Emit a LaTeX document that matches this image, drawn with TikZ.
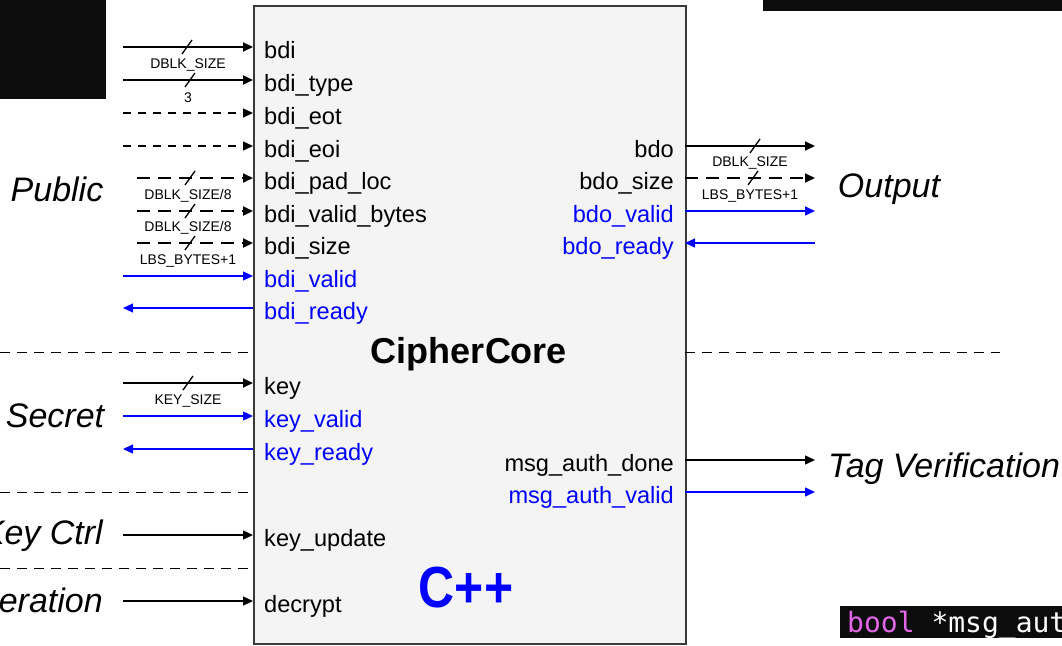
\documentclass[tikz,border=0pt]{standalone}
\usepackage{fontspec}
\setmainfont{Liberation Sans}
\newfontfamily\codefont{DejaVu Sans Mono}
\usetikzlibrary{arrows.meta}
\definecolor{coreFill}{HTML}{F4F4F4}
\definecolor{coreEdge}{HTML}{3A3A3A}
\definecolor{termBg}{HTML}{0C0C0C}
\definecolor{kw}{HTML}{E466E8}
\definecolor{sigblue}{RGB}{0,0,255}
\begin{document}
\begin{tikzpicture}[x=1pt,y=-1pt,
  port/.style={font=\fontsize{23.6}{27}\selectfont, inner sep=0pt},
  inport/.style={port, anchor=base west},
  outport/.style={port, anchor=base east},
  hs/.style={text=sigblue},
  group/.style={font=\fontsize{34}{38}\selectfont\itshape, inner sep=0pt},
  width/.style={font=\fontsize{14}{16}\selectfont, inner sep=0pt},
  tip/.style={-{Triangle[length=10pt,width=9pt]}},
  bus/.style={tip, line width=1.8pt, draw=black},
  dbus/.style={bus, dash pattern=on 13pt off 8pt},
  wire/.style={tip, line width=1.4pt, draw=black},
  dwire/.style={tip, line width=1.3pt, draw=black, dash pattern=on 8pt off 7pt},
  hwire/.style={tip, line width=1.3pt, draw=sigblue},
  sep/.style={line width=1pt, dash pattern=on 10pt off 7pt},
  slash/.style={line width=1.3pt}]
\useasboundingbox (0,0) rectangle (1062,645);
\clip (0,0) rectangle (1062,645);

% terminal windows behind the diagram
\fill[termBg] (0,0) rectangle (106,99);
\fill[termBg] (763,0) rectangle (1062,11);
\fill[termBg] (840,606) rectangle (1062,638);
\node[anchor=base west, inner sep=0pt, font=\fontsize{28}{30}\selectfont\codefont] (code) at (847,632)
  {\textcolor{kw}{bool} \textcolor{white}{*msg\_aut}};

% the core block
\node[draw=coreEdge, fill=coreFill, line width=1.6pt, minimum width=432pt, minimum height=638pt,
  anchor=north west, inner sep=0pt] (core) at (253,5) {};
\node[font=\fontsize{36}{40}\selectfont\bfseries, anchor=base, inner sep=0pt] (title) at (469,363) {CipherCore};
\node[font=\fontsize{58}{60}\selectfont\bfseries, text=sigblue, xscale=0.86, inner sep=0pt] (lang) at (466,588) {C++};

% group separators
\coordinate (s1a) at (0,352);   \coordinate (s1b) at (253,352);
\coordinate (s1c) at (685,352); \coordinate (s1d) at (1000,352);
\coordinate (s2a) at (0,492);   \coordinate (s2b) at (253,492);
\coordinate (s3a) at (0,568);   \coordinate (s3b) at (253,568);
\draw[sep] (s1a) -- (s1b);
\draw[sep] (s1c) -- (s1d);
\draw[sep] (s2a) -- (s2b);
\draw[sep] (s3a) -- (s3b);

% group names
\node[group] (gpub) at (57,189) {Public};
\node[group] (gsec) at (55,416) {Secret};
\node[group, anchor=east] (gkey) at (103,536) {Key Ctrl};
\node[group, anchor=east] (gop) at (103,600) {eration};
\node[group] (gout) at (889,189) {Output};
\node[group] (gtag) at (944,469) {Tag Verification};

% input ports
\node[inport] (n-bdi) at (264,58) {bdi};
\node[inport] (n-bdit) at (264,91) {bdi\_type};
\node[inport] (n-eot) at (264,124) {bdi\_eot};
\node[inport] (n-eoi) at (264,157) {bdi\_eoi};
\node[inport] (n-pad) at (264,189) {bdi\_pad\_loc};
\node[inport] (n-vb) at (264,222) {bdi\_valid\_bytes};
\node[inport] (n-size) at (264,254) {bdi\_size};
\node[inport, hs] (n-bv) at (264,287) {bdi\_valid};
\node[inport, hs] (n-br) at (264,319) {bdi\_ready};
\node[inport] (n-key) at (264,394) {key};
\node[inport, hs] (n-kv) at (264,427) {key\_valid};
\node[inport, hs] (n-kr) at (264,460) {key\_ready};
\node[inport] (n-ku) at (264,546) {key\_update};
\node[inport] (n-dec) at (264,612) {decrypt};

% output ports
\node[outport] (n-bdo) at (674,157) {bdo};
\node[outport] (n-bdos) at (674,189) {bdo\_size};
\node[outport, hs] (n-bdov) at (674,222) {bdo\_valid};
\node[outport, hs] (n-bdor) at (674,254) {bdo\_ready};
\node[outport] (n-mad) at (674,471) {msg\_auth\_done};
\node[outport, hs] (n-mav) at (674,503) {msg\_auth\_valid};

% pin positions on the block edges and free wire ends
\foreach \nm/\yy in {bdi/47, bdit/80, eot/113, eoi/146, pad/178, vb/211, size/243,
    bv/276, br/308, key/383, kv/416, kr/449, ku/535, dec/601}{
  \coordinate (p-\nm) at (253,\yy);
  \coordinate (w-\nm) at (123,\yy);
  \coordinate (v-\nm) at (137,\yy);
}
\foreach \nm/\yy in {bdo/146, bdos/178, bdov/211, bdor/243, mad/460, mav/492}{
  \coordinate (p-\nm) at (685,\yy);
  \coordinate (w-\nm) at (815,\yy);
}

% input wires
\draw[bus] (w-bdi) -- (p-bdi);
\draw[bus] (w-bdit) -- (p-bdit);
\draw[dwire] (w-eot) -- (p-eot);
\draw[dwire] (w-eoi) -- (p-eoi);
\draw[dbus] (v-pad) -- (p-pad);
\draw[dbus] (v-vb) -- (p-vb);
\draw[dbus] (v-size) -- (p-size);
\draw[hwire] (w-bv) -- (p-bv);
\draw[hwire] (p-br) -- (w-br);
\draw[bus] (w-key) -- (p-key);
\draw[hwire] (w-kv) -- (p-kv);
\draw[hwire] (p-kr) -- (w-kr);
\draw[wire] (w-ku) -- (p-ku);
\draw[wire] (w-dec) -- (p-dec);

% output wires
\draw[bus] (p-bdo) -- (w-bdo);
\draw[dbus] (p-bdos) -- (w-bdos);
\draw[hwire] (p-bdov) -- (w-bdov);
\draw[hwire] (w-bdor) -- (p-bdor);
\draw[wire] (p-mad) -- (w-mad);
\draw[hwire] (p-mav) -- (w-mav);

% bus width marks
\foreach \xx/\yy in {187/47, 190/80, 190/178, 190/211, 190/243, 188/383, 755/146, 753/178}{
  \draw[slash] (\xx-5,\yy+7) -- (\xx+5,\yy-7);
}
\node[width] (b-bdi) at (188,65) {DBLK\_SIZE};
\node[width] (b-bdit) at (188,98) {3};
\node[width] (b-pad) at (188,196) {DBLK\_SIZE/8};
\node[width] (b-vb) at (188,228) {DBLK\_SIZE/8};
\node[width] (b-size) at (188,261) {LBS\_BYTES+1};
\node[width] (b-key) at (188,401) {KEY\_SIZE};
\node[width] (b-bdo) at (750,163) {DBLK\_SIZE};
\node[width] (b-bdos) at (750,196) {LBS\_BYTES+1};
\end{tikzpicture}
\end{document}
